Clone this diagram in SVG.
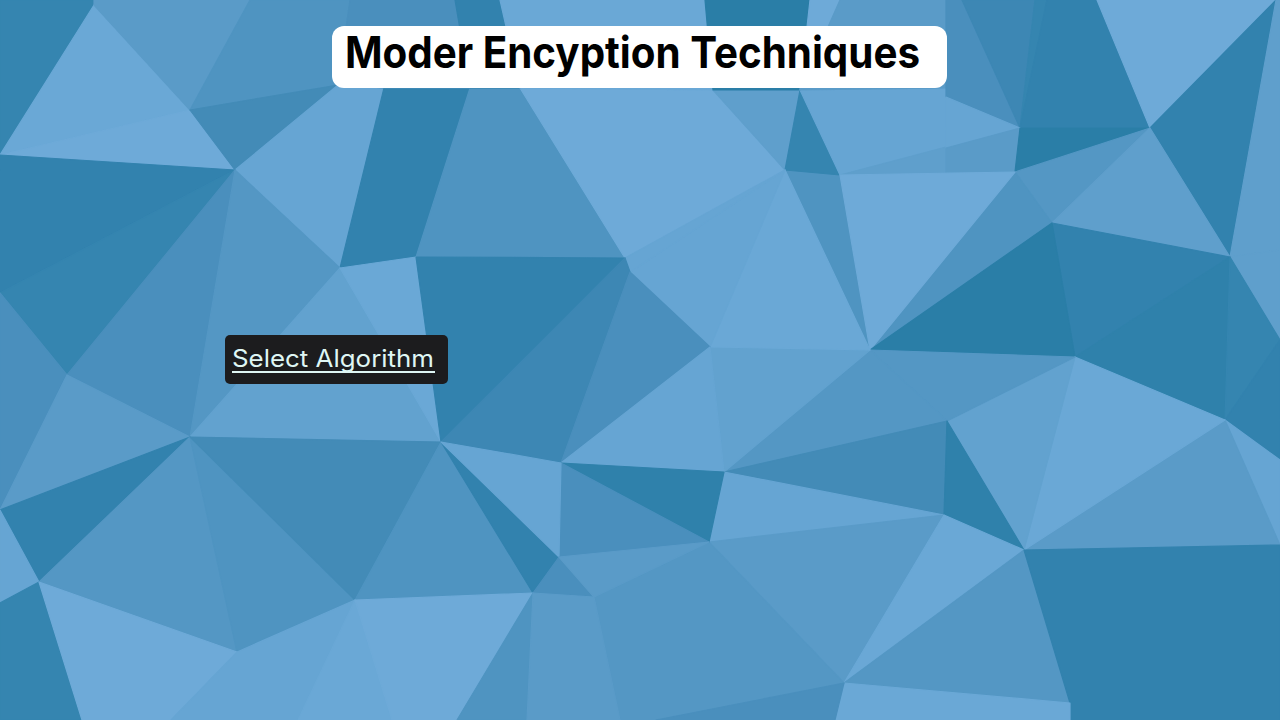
<svg xmlns="http://www.w3.org/2000/svg" width="1280" height="720" viewBox="0 0 1280 720">
<style>
polygon{stroke-width:1.2;stroke-linejoin:round}
.k1{fill:#2a7ea7;stroke:#2a7ea7}.k2{fill:#2f81ab;stroke:#2f81ab}.k3{fill:#3282ae;stroke:#3282ae}
.k4{fill:#3585b0;stroke:#3585b0}.k5{fill:#3d87b4;stroke:#3d87b4}.k6{fill:#438bb7;stroke:#438bb7}
.k7{fill:#4a8fbd;stroke:#4a8fbd}.k8{fill:#4f94c1;stroke:#4f94c1}.k9{fill:#5497c4;stroke:#5497c4}
.k10{fill:#5a9bc8;stroke:#5a9bc8}.k11{fill:#5f9fcc;stroke:#5f9fcc}.k12{fill:#62a2cf;stroke:#62a2cf}
.k13{fill:#66a5d3;stroke:#66a5d3}.k14{fill:#6aa8d6;stroke:#6aa8d6}.k15{fill:#6eaad8;stroke:#6eaad8}
.title{font-family:Inter,"Liberation Sans",Arial,sans-serif;font-weight:700;font-size:44px;fill:#000}
.btn{font-family:Inter,"Noto Sans",sans-serif;font-size:24px;fill:#dff6f4}
</style>
<rect x="0" y="0" width="1280" height="720" fill="#4f94c1"/>
<g id="background">
<polygon class="k4" points="0,0 94,0 94,5 0,155"/>
<polygon class="k14" points="94,5 0,155 190,110"/>
<polygon class="k15" points="0,155 190,110 235,170"/>
<polygon class="k10" points="94,0 250,0 190,110 94,5"/>
<polygon class="k8" points="250,0 350,0 338,85 190,110"/>
<polygon class="k6" points="190,110 338,85 235,170"/>
<polygon class="k13" points="235,170 338,85 384,88 340,268"/>
<polygon class="k3" points="384,88 470,88 416,257 340,268"/>
<polygon class="k8" points="470,88 520,88 625,258 416,257"/>
<polygon class="k15" points="520,88 713,90 785,170 625,258"/>
<polygon class="k11" points="713,90 800,90 785,170"/>
<polygon class="k4" points="785,170 800,90 840,175"/>
<polygon class="k13" points="800,90 946,88 1018,128 840,175"/>
<polygon class="k11" points="840,175 1018,128 1015,175"/>
<polygon class="k7" points="350,0 455,0 470,88 384,88 338,85"/>
<polygon class="k3" points="455,0 500,0 520,88 470,88"/>
<polygon class="k14" points="500,0 705,0 713,90 520,88"/>
<polygon class="k1" points="705,0 810,0 800,90 713,90"/>
<polygon class="k15" points="810,0 840,0 800,90"/>
<polygon class="k10" points="840,0 946,0 946,88 800,90"/>
<polygon class="k7" points="946,0 962,0 1020,128 946,97"/>
<polygon class="k5" points="962,0 1035,0 1020,128"/>
<polygon class="k4" points="1035,0 1047,0 1020,128"/>
<polygon class="k3" points="1047,0 1097,0 1150,128 1020,128"/>
<polygon class="k13" points="946,97 1020,128 946,148"/>
<polygon class="k10" points="946,148 1020,128 1015,172 946,172"/>
<polygon class="k1" points="1020,128 1150,128 1015,172"/>
<polygon class="k9" points="1015,172 1150,128 1052,223"/>
<polygon class="k15" points="1097,0 1276,0 1150,128"/>
<polygon class="k3" points="1150,128 1276,0 1230,257"/>
<polygon class="k11" points="1276,0 1280,0 1280,250 1230,257"/>
<polygon class="k11" points="1052,223 1150,128 1230,257"/>
<polygon class="k3" points="1052,223 1230,257 1075,357"/>
<polygon class="k8" points="1015,172 1052,223 870,350"/>
<polygon class="k15" points="840,175 1015,172 870,350"/>
<polygon class="k1" points="870,350 1052,223 1075,357"/>
<polygon class="k11" points="1230,257 1280,250 1280,340"/>
<polygon class="k2" points="1075,357 1230,257 1225,420"/>
<polygon class="k4" points="1230,257 1280,340 1225,420"/>
<polygon class="k3" points="1225,420 1280,340 1280,460"/>
<polygon class="k13" points="1225,420 1280,460 1280,545"/>
<polygon class="k10" points="1225,420 1280,545 1024,550"/>
<polygon class="k14" points="1075,357 1225,420 1024,550"/>
<polygon class="k12" points="947,421 1075,357 1024,550"/>
<polygon class="k9" points="870,350 1075,357 947,421"/>
<polygon class="k9" points="870,350 947,421 724,472"/>
<polygon class="k12" points="710,347 870,350 724,472"/>
<polygon class="k14" points="785,170 870,350 710,347"/>
<polygon class="k13" points="630,272 785,170 710,347"/>
<polygon class="k13" points="625,258 785,170 630,272"/>
<polygon class="k6" points="724,472 947,421 944,515"/>
<polygon class="k13" points="724,472 944,515 709,542"/>
<polygon class="k2" points="947,421 1024,550 944,515"/>
<polygon class="k10" points="709,542 944,515 844,683"/>
<polygon class="k14" points="944,515 1024,550 844,683"/>
<polygon class="k9" points="1024,550 1070,703 844,683"/>
<polygon class="k3" points="1024,550 1280,545 1280,720 1070,720 1070,703"/>
<polygon class="k14" points="844,683 1070,703 1070,720 835,720"/>
<polygon class="k9" points="709,542 844,683 656,720 620,720 594,597"/>
<polygon class="k7" points="844,683 835,720 656,720"/>
<polygon class="k3" points="0,155 235,170 0,293"/>
<polygon class="k4" points="0,293 235,170 67,375"/>
<polygon class="k7" points="235,170 67,375 190,437"/>
<polygon class="k9" points="235,170 190,437 340,268"/>
<polygon class="k12" points="340,268 190,437 441,442"/>
<polygon class="k14" points="340,268 416,257 441,442"/>
<polygon class="k3" points="416,257 625,258 441,442"/>
<polygon class="k5" points="625,258 630,272 561,463 441,442"/>
<polygon class="k7" points="630,272 710,347 561,463"/>
<polygon class="k13" points="561,463 710,347 724,472"/>
<polygon class="k2" points="561,463 724,472 709,542"/>
<polygon class="k7" points="561,463 709,542 559,557"/>
<polygon class="k7" points="0,293 67,375 0,510"/>
<polygon class="k10" points="0,510 67,375 190,437"/>
<polygon class="k3" points="0,510 190,437 39,582"/>
<polygon class="k9" points="39,582 190,437 237,652"/>
<polygon class="k8" points="190,437 355,600 237,652"/>
<polygon class="k6" points="190,437 441,442 355,600"/>
<polygon class="k8" points="441,442 533,593 355,600"/>
<polygon class="k3" points="441,442 559,557 533,593"/>
<polygon class="k13" points="441,442 561,463 559,557"/>
<polygon class="k7" points="559,557 533,593 594,597"/>
<polygon class="k10" points="559,557 594,597 709,542"/>
<polygon class="k13" points="0,510 39,582 0,603"/>
<polygon class="k4" points="0,603 39,582 82,720 0,720"/>
<polygon class="k15" points="39,582 237,652 171,720 82,720"/>
<polygon class="k13" points="237,652 355,600 298,720 171,720"/>
<polygon class="k14" points="355,600 392,720 298,720"/>
<polygon class="k15" points="355,600 533,593 457,720 392,720"/>
<polygon class="k8" points="533,593 527,720 457,720"/>
<polygon class="k10" points="533,593 594,597 620,720 527,720"/>
</g>
<g id="title-box">
<rect x="332" y="26" width="615" height="62" rx="12" ry="12" fill="#ffffff"/>
<text class="title" x="345" y="68" textLength="575" lengthAdjust="spacingAndGlyphs">Moder Encyption Techniques</text>
</g>
<g id="select-algorithm">
<rect x="225" y="335" width="223" height="49" rx="5" ry="5" fill="#1c1c1e"/>
<text class="btn" x="232" y="367" textLength="202" lengthAdjust="spacingAndGlyphs">Select Algorithm</text>
<rect x="232" y="371" width="203" height="2" fill="#dff6f4"/>
</g>
</svg>
